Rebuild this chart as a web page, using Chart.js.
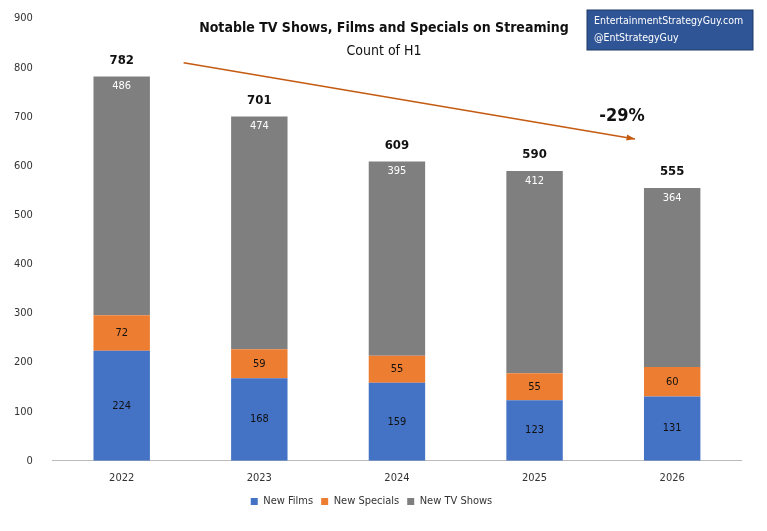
<!DOCTYPE html>
<html><head><meta charset="utf-8">
<script src="https://cdn.jsdelivr.net/npm/chart.js@4"></script>
<style>html,body{margin:0;background:#fff}#wrap{width:767px;height:531px}</style>
</head><body><div id="wrap"><canvas id="showsChart"></canvas></div>
<script>
const FONT = '"DejaVu Sans Condensed", "Liberation Sans Narrow", Roboto, sans-serif';
Chart.defaults.font.family = FONT;
Chart.defaults.color = '#333';

const years = ['2022', '2023', '2024', '2025', '2026'];
const films = [224, 168, 159, 123, 131];
const specials = [72, 59, 55, 55, 60];
const tvShows = [486, 474, 395, 412, 364];

const overlay = {
  id: 'overlay',
  afterDatasetsDraw(chart) {
    const {ctx} = chart;
    const x = chart.scales.x, y = chart.scales.y;
    ctx.save();
    ctx.textAlign = 'center'; ctx.textBaseline = 'middle';
    ctx.font = '11px ' + FONT;
    chart.data.datasets.forEach((ds, di) => {
      chart.getDatasetMeta(di).data.forEach((bar, i) => {
        ctx.fillStyle = di === 2 ? '#fff' : '#111';
        const yy = di === 2 ? bar.y + 10 : (bar.y + bar.base) / 2;
        ctx.fillText(ds.data[i], bar.x, yy);
      });
    });
    ctx.font = 'bold 13px ' + FONT; ctx.fillStyle = '#111';
    years.forEach((_, i) => {
      const total = films[i] + specials[i] + tvShows[i];
      ctx.fillText(total, x.getPixelForValue(i), y.getPixelForValue(total) - 16);
    });
    ctx.font = 'bold 14px ' + FONT;
    ctx.fillText('Notable TV Shows, Films and Specials on Streaming', 384, 28);
    ctx.font = '14px ' + FONT;
    ctx.fillText('Count of H1', 384, 51);
    const x1 = x.getPixelForValue(0.45), y1 = y.getPixelForValue(810);
    const x2 = x.getPixelForValue(3.73), y2 = y.getPixelForValue(655);
    ctx.strokeStyle = '#c55a11'; ctx.fillStyle = '#c55a11'; ctx.lineWidth = 1.5;
    ctx.beginPath(); ctx.moveTo(x1, y1); ctx.lineTo(x2, y2); ctx.stroke();
    const a = Math.atan2(y2 - y1, x2 - x1);
    ctx.beginPath();
    ctx.moveTo(x2, y2);
    ctx.lineTo(x2 - 9 * Math.cos(a - 0.35), y2 - 9 * Math.sin(a - 0.35));
    ctx.lineTo(x2 - 9 * Math.cos(a + 0.35), y2 - 9 * Math.sin(a + 0.35));
    ctx.closePath(); ctx.fill();
    ctx.fillStyle = '#111'; ctx.font = 'bold 18px ' + FONT;
    ctx.fillText('-29%', 622, 116);
    ctx.fillStyle = '#2f5597'; ctx.strokeStyle = '#1f3864'; ctx.lineWidth = 1;
    ctx.fillRect(587, 10, 166, 40); ctx.strokeRect(587, 10, 166, 40);
    ctx.fillStyle = '#fff'; ctx.font = '10.5px ' + FONT; ctx.textAlign = 'left';
    ctx.fillText('EntertainmentStrategyGuy.com', 594, 21);
    ctx.fillText('@EntStrategyGuy', 594, 38);
    ctx.restore();
  }
};

new Chart(document.getElementById('showsChart'), {
  type: 'bar',
  data: {
    labels: years,
    datasets: [
      {label: 'New Films', data: films, backgroundColor: '#4472c4'},
      {label: 'New Specials', data: specials, backgroundColor: '#ed7d31'},
      {label: 'New TV Shows', data: tvShows, backgroundColor: '#7f7f7f'}
    ]
  },
  options: {
    responsive: true, maintainAspectRatio: false, animation: false,
    layout: {padding: {top: 15, right: 26, left: 2, bottom: 14}},
    datasets: {bar: {barPercentage: 0.41, categoryPercentage: 1}},
    scales: {
      x: {stacked: true, grid: {display: false}, border: {color: '#bbb'},
          ticks: {font: {size: 11}, color: '#333', padding: 3}},
      y: {stacked: true, min: 0, max: 900, grid: {display: false}, border: {display: false},
          ticks: {stepSize: 100, padding: 12, font: {size: 11}, color: '#333'}}
    },
    plugins: {
      legend: {position: 'bottom', labels: {boxWidth: 7, boxHeight: 7, font: {size: 11}, padding: 8}},
      tooltip: {enabled: false}
    }
  },
  plugins: [overlay]
});
</script></body></html>
